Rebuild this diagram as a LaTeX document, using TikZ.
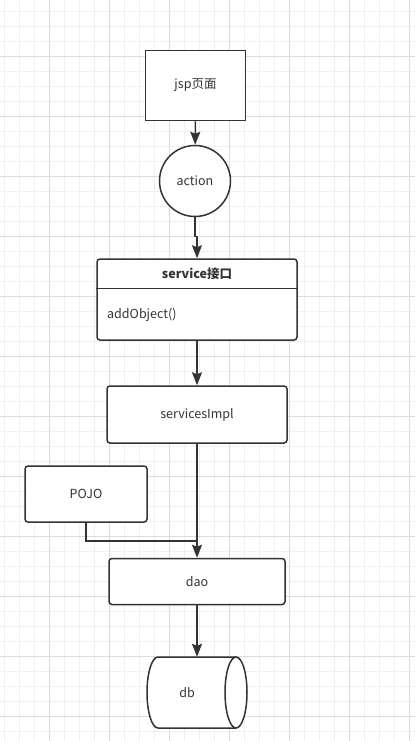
\documentclass[tikz,border=0pt]{standalone}
\usepackage{fontspec}
\setmainfont{Noto Sans CJK SC}
\usetikzlibrary{arrows.meta,calc}
\definecolor{ink}{HTML}{333333}
\definecolor{minorg}{HTML}{F0F0F0}
\definecolor{majorg}{HTML}{DCDCDC}
\tikzset{
  minorline/.style={draw=minorg, line width=0.8pt},
  majorline/.style={draw=majorg, line width=0.8pt},
  box/.style={draw=ink, line width=1.5pt, fill=white, text=ink, font=\fontsize{12.5}{15}\selectfont, inner sep=0pt},
  rbox/.style={box, rounded corners=3pt},
  lbl/.style={text=ink, font=\fontsize{12.5}{15}\selectfont, inner sep=0pt},
  conn/.style={draw=ink, line width=1.5pt},
  arr/.style={conn, -{Stealth[length=13pt,width=10pt,inset=2pt]}}
}
\begin{document}
\begin{tikzpicture}[x=1pt,y=-1pt]
\useasboundingbox (0,0) rectangle (415,741);
\fill[white] (0,0) rectangle (415,741);
% grid
\foreach \x in {4,19,...,414} \draw[minorline] (\x,0) -- (\x,741);
\foreach \y in {11,26,...,740} \draw[minorline] (0,\y) -- (415,\y);
\foreach \x in {49,109,...,409} \draw[majorline] (\x,0) -- (\x,741);
\foreach \y in {56,116,...,716} \draw[majorline] (0,\y) -- (415,\y);

% nodes
\node[box, minimum width=100pt, minimum height=70pt] (jsp) at (195.5,85.5) {jsp页面};
\node[box, circle, minimum size=71pt] (action) at (195,181) {action};
\node[rbox, minimum width=200pt, minimum height=81pt] (service) at (197,299.5) {};
\draw[conn] ($(service.north west)+(0,30)$) -- ($(service.north east)+(0,30)$);
\node[lbl, font=\fontsize{12.5}{15}\selectfont\bfseries] (stitle) at (197,274) {service接口};
\node[lbl, anchor=west] (method) at (107,315) {addObject()};
\node[rbox, minimum width=180pt, minimum height=57pt] (impl) at (197,414.5) {servicesImpl};
\node[rbox, minimum width=122pt, minimum height=56pt] (pojo) at (86,494) {POJO};
\node[rbox, minimum width=176pt, minimum height=46pt] (dao) at (197,581.5) {dao};
\node[minimum width=100pt, minimum height=71pt, inner sep=0pt] (db) at (197,692.5) {};
% cylinder
\fill[white] (236,657) -- (158,657) arc[start angle=270,end angle=90,x radius=11,y radius=35.5] -- (236,728) -- cycle;
\draw[conn] (236,657) -- (158,657) arc[start angle=270,end angle=90,x radius=11,y radius=35.5] -- (236,728);
\draw[conn, fill=white] (236,692.5) ellipse[x radius=11, y radius=35.5];
\node[lbl] (dbtext) at (187,693) {db};

% connectors
\coordinate (merge) at (197,541);
\draw[arr] (jsp) -- (action);
\draw[arr] (action.south) -- ++(0,19) -| (service.north);
\draw[arr] (service) -- (impl);
\draw[arr] (impl) -- (dao);
\draw[conn] (pojo.south) |- (merge);
\draw[arr] (dao) -- (db);
\end{tikzpicture}
\end{document}
